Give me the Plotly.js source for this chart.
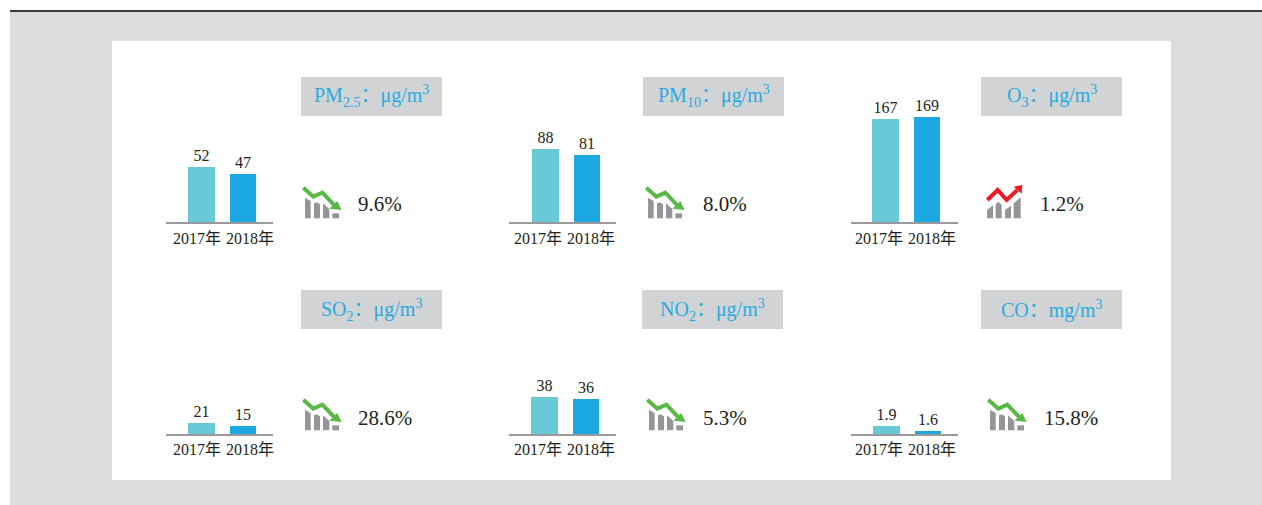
<!DOCTYPE html>
<html><head><meta charset="utf-8">
<script src="https://cdn.plot.ly/plotly-3.0.1.min.js"></script>
<style>html,body{margin:0;padding:0;background:#fff;overflow:hidden}#c{width:1262px;height:505px}</style>
</head><body><div id="c"></div>
<script>
const years = ['2017年', '2018年'];
const titles = ['PM<sub>2.5</sub>：μg/m<sup>3</sup>', 'PM<sub>10</sub>：μg/m<sup>3</sup>', 'O<sub>3</sub>：μg/m<sup>3</sup>',
                'SO<sub>2</sub>：μg/m<sup>3</sup>', 'NO<sub>2</sub>：μg/m<sup>3</sup>', 'CO：mg/m<sup>3</sup>'];
const values2017 = [52, 88, 167, 21, 38, 1.9];
const values2018 = [47, 81, 169, 15, 36, 1.6];
const changes = ['9.6%', '8.0%', '1.2%', '28.6%', '5.3%', '15.8%'];
const trendUp = [false, false, true, false, false, false];

// layout, in page pixels
const W = 1262, H = 505;
const fx = p => p / W, fy = p => 1 - p / H;
const axisLeft  = [166, 509, 851, 166, 509, 851];
const axisBase  = [222, 222, 222, 434, 434, 434];
const bar1Mid   = [201.5, 545.5, 885.5, 201.5, 544.5, 886.5];
const boxLeft   = [301, 643, 981, 301, 642, 981];
const boxTop    = [77, 77, 77, 290, 290, 290];
const iconDx    = [0, 343, 685, 0, 344, 685];
const iconDy    = [0, 0, 0, 212, 212, 212];
const pctLeft   = [356, 701, 1038, 356, 701, 1042];
const pctRise   = [18, 18, 18, 16, 16, 16];
const yMin      = [12.7, 0, 64, 0, 0, 1.42];
const yMax      = [105.6, 157, 194, 248, 133.5, 9.22];
const axisW = 107, plotH = 130, step = 41.5;
const tickA = [197, 538, 879, 197, 538, 879];
const tickB = [250, 591, 932, 250, 591, 932];
const standoff = [1, 1, 1, 0, 0, 0];

const serif = '"Liberation Serif","Noto Sans CJK SC",serif';
const data = [], shapes = [], annotations = [];
const layout = {
  width: W, height: H, margin: {l:0, r:0, t:0, b:0}, showlegend: false,
  paper_bgcolor: '#ffffff', plot_bgcolor: 'rgba(0,0,0,0)',
  bargap: 0, font: {family: serif, color: '#231f20'}
};

const rect = (x0, y0, x1, y1, fill) => ({type:'rect', xref:'paper', yref:'paper', layer:'below',
  x0:fx(x0), x1:fx(x1), y0:fy(y0), y1:fy(y1), fillcolor:fill, line:{width:0}});
shapes.push(rect(10, 12, 1262, 505, '#dcddde'));
shapes.push(rect(10, 10, 1262, 12, '#3a3a3c'));
shapes.push(rect(112, 41, 1171, 480, '#ffffff'));

function pathOf(pts, ox, oy, dx, dy, close) {
  return pts.map((p, i) => (i ? 'L' : 'M') + fx(ox + p[0] / 3 + dx).toFixed(5) + ',' + fy(oy + p[1] / 3 + dy).toFixed(5)).join(' ') + (close ? ' Z' : '');
}
const downBars = [
  [[45,68],[62,78],[62,130],[45,130]], [[72,85],[80,82],[90,88],[90,130],[72,130]],
  [[99,85],[118,102],[118,130],[99,130]], [[127,115],[147,115],[147,130],[127,130]]];
const upBars = [
  [[36,105],[54,91],[54,130],[36,130]], [[62,88],[70,80],[80,90],[80,130],[62,130]],
  [[90,105],[108,92],[108,130],[90,130]], [[116,85],[137,67],[137,130],[116,130]]];
const downLine = [[40,38],[70,65],[97,53],[132,90]];
const downHead = [[118,101],[142,78],[155,105]];
const upLine = [[37,75],[68,45],[95,75],[127,45]];
const upHead = [[116,35],[142,30],[140,56]];

function addIcon(i) {
  const up = trendUp[i];
  const ox = up ? 975 - 685 : 290, oy = 175;
  const col = up ? '#ed1c24' : '#5ab946';
  const mk = (path, fill, stroke) => ({type:'path', xref:'paper', yref:'paper', path,
    fillcolor: fill || 'rgba(0,0,0,0)', line: stroke ? {color:stroke, width:4} : {width:0}});
  (up ? upBars : downBars).forEach(b => shapes.push(mk(pathOf(b, ox, oy, iconDx[i], iconDy[i], true), '#939598')));
  shapes.push(mk(pathOf(up ? upLine : downLine, ox, oy, iconDx[i], iconDy[i], false), null, col));
  shapes.push(mk(pathOf(up ? upHead : downHead, ox, oy, iconDx[i], iconDy[i], true), col));
}

titles.forEach((t, i) => {
  const n = i ? i + 1 : '';
  const xa = 'xaxis' + n, ya = 'yaxis' + n;
  const xid = 'x' + n, yid = 'y' + n;
  const left = axisLeft[i], base = axisBase[i];
  const x0 = (left - bar1Mid[i]) / step;
  layout[xa] = {
    domain: [fx(left), fx(left + axisW)], range: [x0, x0 + axisW / step], anchor: yid,
    showgrid:false, zeroline:false, showline:true, linecolor:'#9a9a9c', linewidth:1.5,
    ticks:'', tickmode:'array', ticklabelstandoff: standoff[i],
    tickvals: [(tickA[i] - bar1Mid[i]) / step, (tickB[i] - bar1Mid[i]) / step],
    ticktext: years, tickfont:{family:serif, size:16, color:'#231f20'}, fixedrange:true
  };
  layout[ya] = {
    domain: [fy(base), fy(base - plotH)], range: [yMin[i], yMax[i]], anchor: xid,
    visible:false, fixedrange:true
  };
  const vals = [values2017[i], values2018[i]];
  data.push({
    type:'bar', x:[0, 1], y:vals, xaxis:xid, yaxis:yid, width:0.64,
    marker:{color:['#69c9d6', '#1ca8e0'], line:{width:0}},
    text: vals.map(String), textposition:'outside', cliponaxis:false,
    textfont:{family:serif, size:16, color:'#231f20'}, hoverinfo:'skip'
  });
  shapes.push(rect(boxLeft[i], boxTop[i], boxLeft[i] + 141, boxTop[i] + 39, '#d1d3d4'));
  annotations.push({xref:'paper', yref:'paper', x:fx(boxLeft[i] + 70.5), y:fy(boxTop[i] + 19.5),
    xanchor:'center', yanchor:'middle', showarrow:false, text:t,
    font:{family:serif, size:20, color:'#29abe2'}});
  annotations.push({xref:'paper', yref:'paper', x:fx(pctLeft[i]), y:fy(base - pctRise[i]),
    xanchor:'left', yanchor:'middle', showarrow:false, text:changes[i],
    font:{family:serif, size:21, color:'#231f20'}});
  addIcon(i);
});
layout.shapes = shapes;
layout.annotations = annotations;
Plotly.newPlot('c', data, layout, {displayModeBar:false, staticPlot:true});
</script></body></html>
